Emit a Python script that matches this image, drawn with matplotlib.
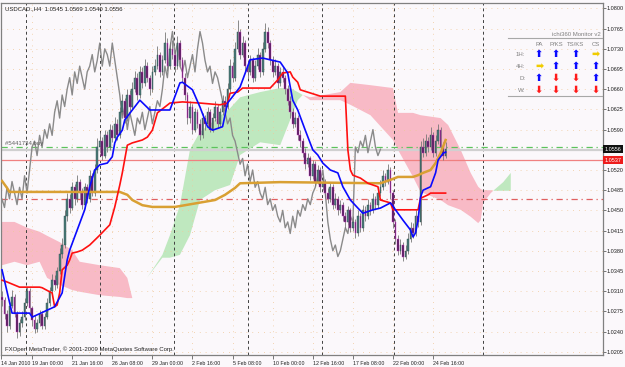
import numpy as np
import matplotlib
matplotlib.use('Agg')
import matplotlib.pyplot as plt
import matplotlib.transforms as mtransforms
from matplotlib import font_manager

# Fonte pequena parecida com a do MetaTrader
nomesFontes = {f.name for f in font_manager.fontManager.ttflist}
if 'Liberation Sans Narrow' in nomesFontes:
    fonte, escala = 'Liberation Sans Narrow', 1.2
else:
    fonte, escala = 'Liberation Sans', 1.0
plt.rcParams['font.family'] = [fonte, 'DejaVu Sans']
tamX = 3.8 * escala      # rotulos do eixo de tempo
tamY = 4.0 * escala      # rotulos do eixo de preco
tam = 4.3 * escala       # demais textos

# DADOS - precos em pips acima de 1.0000 (ex: 556 -> 1.0556), um candle H4 por posicao
abertura = [300, 295, 270, 250, 285, 300, 270, 240, 255, 265,
            290, 310, 280, 260, 245, 255, 270, 250, 265, 290,
            310, 330, 320, 345, 375, 390, 440, 470, 455, 490,
            470, 500, 480, 460, 490, 470, 510, 480, 520, 560,
            570, 545, 580, 560, 590, 575, 600, 580, 620, 640,
            610, 650, 630, 660, 680, 650, 690, 670, 700, 680,
            660, 690, 700, 720, 690, 710, 740, 700, 730, 720,
            700, 740, 710, 680, 650, 610, 630, 590, 620, 600,
            580, 610, 600, 620, 590, 610, 630, 600, 620, 640,
            630, 660, 700, 680, 730, 760, 720, 740, 700, 690,
            710, 680, 700, 720, 690, 730, 760, 740, 710, 690,
            700, 670, 690, 680, 660, 640, 620, 600, 610, 580,
            570, 550, 530, 540, 510, 530, 500, 520, 490, 500,
            480, 470, 490, 460, 470, 450, 460, 440, 430, 450,
            420, 430, 410, 440, 420, 450, 440, 460, 450, 470,
            460, 480, 490, 510, 500, 520, 480, 430, 400, 380,
            390, 370, 380, 400, 420, 410, 440, 430, 560, 550,
            570, 560, 580, 550, 570, 590, 560, 545]
maxima = [310, 300, 278, 292, 312, 305, 275, 262, 275, 298,
          318, 315, 285, 268, 262, 278, 275, 272, 298, 318,
          340, 338, 352, 385, 402, 450, 480, 478, 500, 495,
          512, 505, 488, 498, 495, 520, 515, 530, 575, 585,
          578, 590, 588, 600, 598, 612, 608, 630, 652, 645,
          660, 658, 672, 692, 688, 700, 698, 712, 708, 685,
          700, 712, 735, 725, 720, 760, 748, 742, 745, 728,
          752, 745, 715, 688, 655, 640, 635, 628, 625, 608,
          618, 615, 630, 625, 618, 640, 635, 628, 650, 648,
          670, 712, 708, 742, 780, 765, 752, 745, 710, 720,
          715, 710, 732, 725, 742, 775, 768, 745, 718, 712,
          705, 698, 700, 685, 668, 648, 628, 620, 615, 590,
          575, 558, 550, 545, 538, 535, 528, 525, 510, 505,
          488, 498, 495, 480, 475, 468, 465, 448, 458, 455,
          440, 435, 450, 445, 460, 458, 470, 465, 480, 475,
          490, 502, 520, 515, 530, 525, 485, 435, 408, 400,
          395, 390, 410, 430, 428, 450, 448, 570, 575, 582,
          578, 595, 585, 580, 600, 595, 568, 569]
minima = [285, 262, 240, 245, 280, 265, 228, 232, 248, 260,
          285, 272, 250, 238, 240, 250, 245, 245, 262, 285,
          305, 312, 315, 340, 368, 385, 432, 445, 450, 460,
          465, 470, 452, 455, 462, 465, 475, 475, 515, 550,
          538, 540, 552, 555, 568, 570, 572, 575, 615, 602,
          605, 622, 625, 655, 642, 645, 662, 665, 672, 650,
          655, 685, 695, 682, 685, 705, 692, 695, 712, 690,
          695, 700, 672, 642, 600, 602, 582, 585, 592, 572,
          575, 590, 595, 585, 585, 605, 592, 595, 615, 622,
          625, 655, 672, 675, 725, 712, 715, 692, 680, 685,
          672, 675, 695, 682, 685, 725, 732, 702, 682, 685,
          662, 665, 672, 652, 632, 610, 592, 595, 572, 560,
          542, 522, 525, 502, 505, 492, 495, 482, 485, 472,
          462, 465, 452, 455, 442, 445, 432, 420, 425, 412,
          415, 402, 405, 412, 415, 432, 435, 442, 445, 452,
          455, 475, 485, 492, 495, 470, 420, 392, 372, 375,
          362, 365, 375, 395, 402, 405, 422, 425, 542, 545,
          552, 555, 542, 545, 565, 552, 538, 540]
fechamento = [295, 270, 250, 285, 300, 270, 240, 255, 265, 290,
              310, 280, 260, 245, 255, 270, 250, 265, 290, 310,
              330, 320, 345, 375, 390, 440, 470, 455, 490, 470,
              500, 480, 460, 490, 470, 510, 480, 520, 560, 570,
              545, 580, 560, 590, 575, 600, 580, 620, 640, 610,
              650, 630, 660, 680, 650, 690, 670, 700, 680, 660,
              690, 700, 720, 690, 710, 740, 700, 730, 720, 700,
              740, 710, 680, 650, 610, 630, 590, 620, 600, 580,
              610, 600, 620, 590, 610, 630, 600, 620, 640, 630,
              660, 700, 680, 730, 760, 720, 740, 700, 690, 710,
              680, 700, 720, 690, 730, 760, 740, 710, 690, 700,
              670, 690, 680, 660, 640, 620, 600, 610, 580, 570,
              550, 530, 540, 510, 530, 500, 520, 490, 500, 480,
              470, 490, 460, 470, 450, 460, 440, 430, 450, 420,
              430, 410, 440, 420, 450, 440, 460, 450, 470, 460,
              480, 490, 510, 500, 520, 480, 430, 400, 380, 390,
              370, 380, 400, 420, 410, 440, 430, 560, 550, 570,
              560, 580, 550, 570, 590, 560, 545, 556]

# Linhas do Ichimoku (posicao do candle, pips)
tenkanBars = [0, 4, 11, 12, 18, 21, 24, 26, 27, 33, 35, 37, 39, 42, 44, 45, 46, 48, 49, 55,
              59, 67, 71, 72, 76, 79, 82, 84, 88, 90, 95, 99, 104, 111, 114, 116, 118, 121, 124, 126,
              128, 131, 134, 136, 139, 142, 144, 148, 151, 155, 160, 163, 164, 165, 166, 167, 168, 171, 173, 174,
              176, 177]
tenkan = [347, 272, 272, 265, 277, 283, 307, 364, 381, 451, 491, 520, 529, 532, 543, 567, 577, 589, 607, 641,
          624, 624, 671, 672, 659, 629, 595, 589, 595, 636, 664, 711, 714, 707, 688, 641, 624, 589, 555, 546,
          532, 520, 515, 491, 468, 454, 445, 451, 454, 463, 433, 416, 404, 411, 433, 473, 485, 491, 515, 537,
          549, 551]
kijunBars = [0, 2, 7, 15, 16, 19, 20, 21, 22, 23, 24, 26, 27, 28, 30, 32, 35, 39, 43, 45,
             47, 48, 50, 52, 56, 58, 60, 62, 67, 72, 79, 87, 90, 91, 94, 96, 107, 110, 112, 115,
             116, 118, 119, 127, 137, 138, 139, 140, 143, 146, 150, 151, 155, 156, 166, 167, 170, 171, 177]
kijun = [329, 326, 317, 317, 316, 309, 307, 283, 286, 307, 347, 355, 364, 376, 378, 381, 390, 407, 425, 456,
         494, 515, 563, 567, 572, 577, 589, 619, 636, 638, 636, 633, 636, 653, 655, 662, 662, 676, 688, 690,
         681, 672, 659, 648, 648, 555, 520, 511, 506, 497, 491, 468, 463, 451, 451, 471, 477, 480, 480]
laranjaBars = [0, 2, 3, 47, 50, 52, 56, 60, 69, 73, 85, 89, 93, 95, 111, 151, 155, 158, 164, 166,
               168, 171, 173, 175, 177]
laranja = [501, 489, 482, 482, 477, 468, 459, 456, 456, 459, 468, 477, 489, 497, 499, 497, 503, 508, 508, 511,
           515, 520, 532, 549, 572]

# Nuvem (Senkou A e B, ja deslocadas 26 candles para frente)
nuvemBars = [0, 5, 10, 15, 18, 23, 28, 31, 39, 47, 50, 52, 58, 64, 67, 71, 75, 79, 85, 91,
             95, 103, 111, 115, 118, 120, 123, 135, 139, 147, 156, 158, 164, 167, 175, 178, 183, 187, 190, 191,
             192, 195, 196, 200, 203]
senkouA = [355, 361, 355, 361, 333, 321, 312, 309, 303, 300, 298, 298, 334, 373, 407, 459, 555, 586, 607, 627,
           646, 655, 662, 662, 655, 650, 641, 641, 633, 615, 572, 555, 508, 482, 468, 459, 451, 439, 428, 433,
           463, 480, 484, 499, 515]
senkouB = [430, 430, 420, 413, 406, 395, 381, 361, 355, 350, 333, 298, 334, 368, 368, 373, 407, 468, 485, 494,
           546, 568, 563, 607, 641, 650, 646, 655, 671, 667, 662, 619, 619, 615, 610, 598, 555, 515, 491, 487,
           485, 485, 484, 484, 484]

# Eixos
tickBars = [-0.3, 12, 28, 44, 60, 76, 92, 108, 124, 140, 156, 172]
tickLabels = ['14 Jan 2010', '19 Jan 00:00', '21 Jan 16:00', '26 Jan 08:00', '29 Jan 00:00', '2 Feb 16:00',
              '5 Feb 08:00', '10 Feb 00:00', '12 Feb 16:00', '17 Feb 08:00', '22 Feb 00:00', '24 Feb 16:00']
precosEixo = [1.0205, 1.0240, 1.0275, 1.0310, 1.0345, 1.0380, 1.0415, 1.0450, 1.0485, 1.0520,
              1.0555, 1.0590, 1.0625, 1.0660, 1.0695, 1.0730, 1.0765, 1.0800]
separadoresSemana = [9.5, 39, 68.5, 98, 127.5, 156.5, 192]

# Painel ichi360
monitorColunas = ['PA', 'P/KS', 'TS/KS', 'CS']
monitorLinhas = ['1H:', '4H:', 'D:', 'W:']
monitorSinais = [['up', 'up', 'up', 'side'],
                 ['side', 'up', 'up', 'up'],
                 ['up', 'down', 'down', 'up'],
                 ['down', 'down', 'down', 'down']]


def preco(lista):
    return 1 + np.array(lista) / 10000


o, h, l, c = preco(abertura), preco(maxima), preco(minima), preco(fechamento)
idx = np.arange(len(c))

fundo = '#fbf8fb'
fig = plt.figure(figsize=(6.25, 3.67), dpi=100, facecolor=fundo)
ax = fig.add_axes([1 / 625, 12 / 367, 602 / 625, 352 / 367], facecolor=fundo)


def px(x, y):
    # pixel da imagem (a partir do canto superior esquerdo) -> fracao da figura
    return x / 625, 1 - y / 367


# Nuvem
nx = np.array(nuvemBars)
sa, sb = preco(senkouA), preco(senkouB)
ax.fill_between(nx, sa, sb, where=sb >= sa, interpolate=True, color='#f8bac6', lw=0, zorder=1)
ax.fill_between(nx, sa, sb, where=sa >= sb, interpolate=True, color='#bfe8bf', lw=0, zorder=1)

# Separadores de semana e linhas horizontais
for s in separadoresSemana:
    ax.axvline(s, color='#404040', ls=(0, (3, 3)), lw=0.7, zorder=2)
ax.axhline(1.0560, color='#5cc35c', ls=(0, (5, 3, 1, 3)), lw=0.9, zorder=2)
ax.axhline(1.0554, color='#d0d0d0', lw=1.6, zorder=2)
ax.axhline(1.0537, color='#f08080', lw=0.9, zorder=2)
ax.axhline(1.0470, color='#e06060', ls=(0, (5, 3, 1, 3)), lw=0.9, zorder=2)

# Chikou (fechamento deslocado 26 candles para tras)
ax.plot(idx - 26, c, color='#8a8a8a', lw=1.0, zorder=3)

# Candles
alta = c >= o
ax.vlines(idx, l, h, color='#777777', lw=0.6, zorder=4)
ax.bar(idx[alta], (c - o)[alta], bottom=o[alta], width=0.7, color='#4a7a78',
       edgecolor='#2f4f4f', lw=0.3, zorder=5)
ax.bar(idx[~alta], (o - c)[~alta], bottom=c[~alta], width=0.7, color='#4b1b55',
       edgecolor='#d040c8', lw=0.3, zorder=5)

# Linhas
ax.plot(laranjaBars, preco(laranja), color='#d9a033', lw=1.8, zorder=6)
ax.plot(kijunBars, preco(kijun), color='#ff1010', lw=1.2, zorder=7)
ax.plot(tenkanBars, preco(tenkan), color='#0a0aff', lw=1.2, zorder=7)

ax.set_xlim(-0.4, 239.8)
ax.set_ylim(1.01994, 1.08094)

# Eixo x
ax.set_xticks(tickBars)
ax.set_xticklabels(tickLabels)
for lab in ax.get_xticklabels():
    lab.set_horizontalalignment('left')
ax.tick_params(axis='x', length=3, width=0.6, color='#606060', labelsize=tamX, pad=1.5, labelcolor='#202020')

# Eixo y a direita (o rotulo 1.0555 fica escondido atras da caixa do preco atual)
ax.yaxis.tick_right()
ax.set_yticks(precosEixo)
ax.set_yticklabels(['' if p == 1.0555 else '%.4f' % p for p in precosEixo])
ax.tick_params(axis='y', length=2, width=0.6, color='#606060', labelsize=tamY, pad=0.8, labelcolor='#202020')

ax.grid(True, color='#f0c89a', ls=(0, (1, 6)), lw=0.6, zorder=0)
for sp in ax.spines.values():
    sp.set_color('#808080')
    sp.set_linewidth(0.9)

# Caixas de preco no eixo
trans = mtransforms.blended_transform_factory(ax.transAxes, ax.transData)
ax.text(1.003, 1.0556, '1.0556', transform=trans, color='white', fontsize=tamY, va='center', ha='left',
        bbox=dict(boxstyle='square,pad=0.3', fc='#101010', ec='none'), clip_on=False, zorder=10)
ax.text(1.003, 1.0537, '1.0537', transform=trans, color='white', fontsize=tamY, va='center', ha='left',
        bbox=dict(boxstyle='square,pad=0.3', fc='#ee1c1c', ec='none'), clip_on=False, zorder=10)

# Textos do grafico
ax.text(0.006, 0.99, 'USDCAD.,H4  1.0545 1.0569 1.0540 1.0556', transform=ax.transAxes,
        fontsize=tam, va='top', ha='left', color='#202020')
ax.text(0.006, 0.008, 'FXOpen MetaTrader, \u00a9 2001-2009 MetaQuotes Software Corp.', transform=ax.transAxes,
        fontsize=tam, va='bottom', ha='left', color='#202020')
ax.text(1, 1.0562, '#5441734 buy', fontsize=tam, va='bottom', ha='left', color='#606060', zorder=8)

# Painel ichi360 Monitor
fig.text(*px(601, 34), 'ichi360 Monitor v2', fontsize=tam, color='#808080', ha='right', va='center')
for yy in [38, 96]:
    x0, y0 = px(508, yy)
    x1, _ = px(602, yy)
    fig.add_artist(plt.Line2D([x0, x1], [y0, y0], color='#a8a8a8', lw=0.8))
colunasX = [539, 556, 576, 596]
linhasY = [54, 66, 78, 90]
for cx, nome in zip(colunasX, monitorColunas):
    fig.text(*px(cx, 44), nome, fontsize=tam, color='#808080', ha='center', va='center')
setas = {'up': ('\u2B06', '#0a0aff'), 'down': ('\u2B07', '#ff1a1a'), 'side': ('\u27A1', '#f0cc00')}
for ly, nome, sinais in zip(linhasY, monitorLinhas, monitorSinais):
    fig.text(*px(525, ly), nome, fontsize=tam, color='#808080', ha='right', va='center')
    for cx, s in zip(colunasX, sinais):
        glifo, cor = setas[s]
        fig.text(*px(cx, ly), glifo, fontsize=7, color=cor, ha='center', va='center',
                 family='DejaVu Sans', fontweight='bold')

fig.savefig('out.png', dpi=100, facecolor=fundo)
